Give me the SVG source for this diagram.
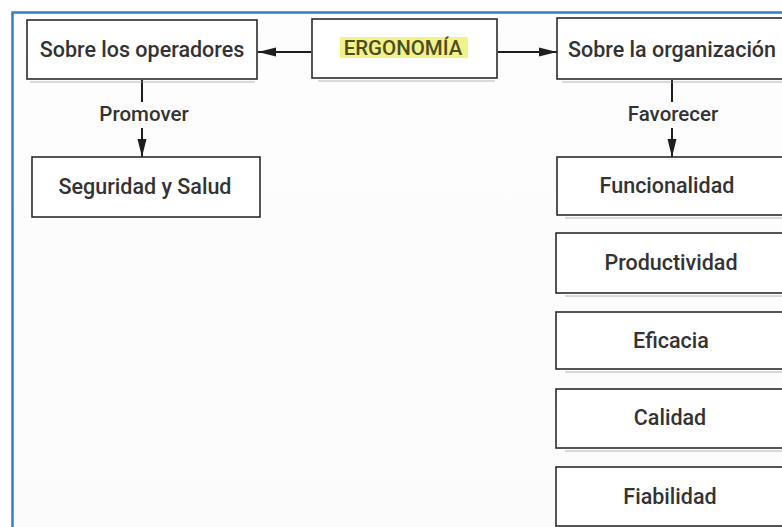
<svg xmlns="http://www.w3.org/2000/svg" width="782" height="527" viewBox="0 0 782 527">
  <defs>
    <marker id="ah" markerWidth="18" markerHeight="10" refX="18" refY="5" orient="auto" markerUnits="userSpaceOnUse">
      <path d="M0,0.5 L18,5 L0,9.5 Z" fill="#1e1e1e"/>
    </marker>
    <linearGradient id="bg" x1="0" y1="0" x2="0" y2="1">
      <stop offset="0" stop-color="#fdfdfd"/>
      <stop offset="1" stop-color="#fbfbfb"/>
    </linearGradient>
  </defs>
  <style>
    .box { fill: #ffffff; stroke: #2b2b2b; stroke-width: 1.6; }
    .shadow { fill: none; stroke: #9a9a9a; stroke-width: 1.2; opacity: 0.7; }
    .t { font-family: Roboto, "Liberation Sans", Arial, sans-serif; font-weight: 500; font-size: 21.5px; fill: #333333; text-anchor: middle; }
    .lbl { font-family: Roboto, "Liberation Sans", Arial, sans-serif; font-weight: 500; font-size: 20.5px; fill: #333333; text-anchor: middle; }
    .ln { stroke: #1e1e1e; stroke-width: 2; fill: none; }
    .frame { stroke: #3a7cc6; stroke-width: 2.5; fill: none; }
  </style>
  <rect x="0" y="0" width="782" height="527" fill="#ffffff"/>
  <rect x="13" y="13" width="800" height="520" fill="url(#bg)"/>
  <path class="frame" d="M12.5,540 L12.5,12.5 L790,12.5"/>

  <g id="connectors">
    <line class="ln" x1="311" y1="52" x2="258" y2="52" marker-end="url(#ah)"/>
    <line class="ln" x1="498" y1="52" x2="557" y2="52" marker-end="url(#ah)"/>
    <line class="ln" x1="142" y1="80" x2="142" y2="102"/>
    <line class="ln" x1="142" y1="128" x2="142" y2="157" marker-end="url(#ah)"/>
    <text class="lbl" x="144" y="121">Promover</text>
    <line class="ln" x1="672" y1="80" x2="672" y2="102"/>
    <line class="ln" x1="672" y1="128" x2="672" y2="157" marker-end="url(#ah)"/>
    <text class="lbl" x="673" y="121">Favorecer</text>
  </g>

  <g id="n-operadores">
    <line class="shadow" x1="30" y1="82" x2="255" y2="82"/>
    <rect class="box" x="27" y="20" width="230" height="59"/>
    <text class="t" x="142" y="57">Sobre los operadores</text>
  </g>
  <g id="n-ergonomia">
    <line class="shadow" x1="318" y1="81" x2="495" y2="81"/>
    <rect class="box" x="312" y="19" width="185" height="59"/>
    <rect x="340" y="37" width="128" height="21" fill="#f2f28a"/>
    <text class="lbl" x="403" y="55" style="fill:#4d4d20">ERGONOMÍA</text>
  </g>
  <g id="n-organizacion">
    <line class="shadow" x1="562" y1="82" x2="782" y2="82"/>
    <rect class="box" x="557" y="18" width="250" height="61"/>
    <text class="t" x="672" y="57">Sobre la organización</text>
  </g>
  <g id="n-seguridad">
    <rect class="box" x="32" y="157" width="228" height="60"/>
    <text class="t" x="145" y="194">Seguridad y Salud</text>
  </g>
  <g id="n-funcionalidad">
    <line class="shadow" x1="565" y1="218" x2="782" y2="218"/>
    <rect class="box" x="557" y="157" width="250" height="58"/>
    <text class="t" x="667" y="193">Funcionalidad</text>
  </g>
  <g id="n-productividad">
    <line class="shadow" x1="565" y1="296" x2="782" y2="296"/>
    <rect class="box" x="556" y="233" width="250" height="60"/>
    <text class="t" x="671" y="270">Productividad</text>
  </g>
  <g id="n-eficacia">
    <line class="shadow" x1="565" y1="372" x2="782" y2="372"/>
    <rect class="box" x="556" y="312" width="250" height="57"/>
    <text class="t" x="671" y="348">Eficacia</text>
  </g>
  <g id="n-calidad">
    <line class="shadow" x1="565" y1="451" x2="782" y2="451"/>
    <rect class="box" x="556" y="389" width="250" height="59"/>
    <text class="t" x="670" y="425">Calidad</text>
  </g>
  <g id="n-fiabilidad">
    <rect class="box" x="556" y="467" width="250" height="59"/>
    <text class="t" x="670" y="504">Fiabilidad</text>
  </g>
</svg>
